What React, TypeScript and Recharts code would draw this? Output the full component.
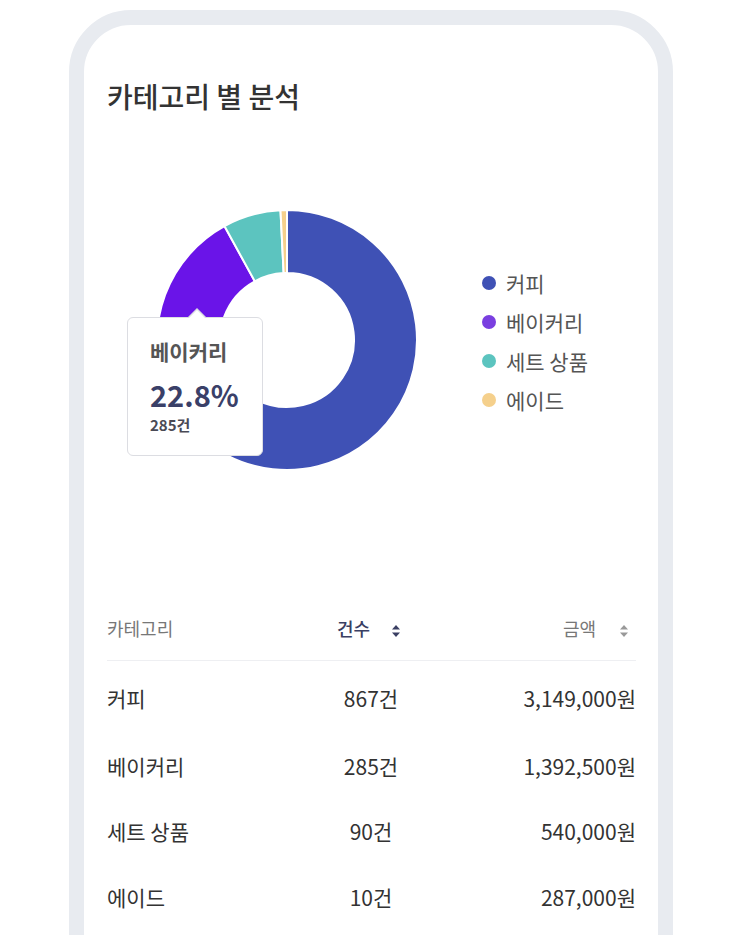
import React from 'react';
import { PieChart, Pie, Cell, Tooltip, Legend } from 'recharts';

const categories = ['커피', '베이커리', '세트 상품', '에이드'];
const counts = [867, 285, 90, 10];
const amounts = [3149000, 1392500, 540000, 287000];
const COLORS = ['#3f51b5', '#6a14e8', '#5cc4bf', '#f5d08c'];
const LEGEND_COLORS = ['#3f51b5', '#7a3fe0', '#5cc4bf', '#f5d08c'];

const chartData = categories.map((name, i) => ({ name, value: counts[i], amount: amounts[i] }));
const total = counts.reduce((a, b) => a + b, 0);

const FONT = '"Noto Sans CJK KR", "Noto Sans", sans-serif';

const SortIcon = ({ color, gap }: { color: string; gap: number }) => (
  <svg width="10" height="14" viewBox="0 0 10 14" style={{ marginLeft: gap, verticalAlign: 'middle' }}>
    <path d="M5 1 L9 5.5 L1 5.5 Z" fill={color} />
    <path d="M5 13 L9 8.5 L1 8.5 Z" fill={color} />
  </svg>
);

const TipContent = ({ payload }: any) => {
  if (!payload || !payload.length) return null;
  const item = payload[0];
  const pct = ((item.value / total) * 100).toFixed(1);
  return (
    <div style={{ position: 'relative', width: 136, height: 139, background: '#fff', border: '1px solid #dcdde2', borderRadius: 6, boxSizing: 'border-box', padding: '16px 0 0 22px', fontFamily: FONT }}>
      <div style={{ position: 'absolute', left: 59, top: -10, width: 0, height: 0, borderLeft: '10px solid transparent', borderRight: '10px solid transparent', borderBottom: '10px solid #dcdde2' }} />
      <div style={{ position: 'absolute', left: 60, top: -8, width: 0, height: 0, borderLeft: '9px solid transparent', borderRight: '9px solid transparent', borderBottom: '9px solid #fff' }} />
      <div style={{ fontSize: 21, fontWeight: 700, color: '#555', lineHeight: '34px' }}>{item.name}</div>
      <div style={{ fontSize: 29, fontWeight: 700, color: '#3a4068', lineHeight: '44px', marginTop: 4 }}>{pct}%</div>
      <div style={{ fontSize: 15, fontWeight: 700, color: '#4a4a55', lineHeight: '18px' }}>{item.value}건</div>
    </div>
  );
};

const LegendContent = () => (
  <ul style={{ listStyle: 'none', margin: 0, padding: 0, fontFamily: FONT }}>
    {categories.map((c, i) => (
      <li key={c} style={{ display: 'flex', alignItems: 'center', height: 39 }}>
        <span style={{ width: 14, height: 14, borderRadius: 7, background: LEGEND_COLORS[i], display: 'inline-block', marginRight: 10 }} />
        <span style={{ fontSize: 21, color: '#555' }}>{c}</span>
      </li>
    ))}
  </ul>
);

const rowTops = [676, 744, 809, 875];

export default function App() {
  return (
    <div style={{ position: 'fixed', left: 0, top: 0, width: 743, height: 935, overflow: 'hidden', background: '#fff', fontFamily: FONT }}>
      <div style={{ position: 'absolute', left: 69, top: 10, width: 604, height: 1100, border: '15px solid #e8ebf0', borderRadius: 62, boxSizing: 'border-box', background: '#fff' }} />
      <div style={{ position: 'absolute', left: 107, top: 76, fontSize: 28, fontWeight: 500, color: '#333', lineHeight: '40px' }}>
        카테고리 별 분석
      </div>

      <div style={{ position: 'absolute', left: 0, top: 0 }}>
        <PieChart width={743} height={540} margin={{ top: 0, right: 0, bottom: 0, left: 0 }}>
          <Pie
            data={chartData}
            dataKey="value"
            nameKey="name"
            cx={287}
            cy={340}
            innerRadius={67}
            outerRadius={130}
            startAngle={90}
            endAngle={-270}
            stroke="#fff"
            strokeWidth={2}
            isAnimationActive={false}
          >
            {chartData.map((_, i) => (
              <Cell key={`cell-${i}`} fill={COLORS[i]} />
            ))}
          </Pie>
          <Legend
            content={<LegendContent />}
            layout="vertical"
            verticalAlign="middle"
            align="center"
            wrapperStyle={{ left: 482, top: 263, width: 160 }}
          />
          <Tooltip
            defaultIndex={1}
            active
            position={{ x: 127, y: 317 }}
            content={<TipContent />}
            isAnimationActive={false}
            wrapperStyle={{ outline: 'none' }}
          />
        </PieChart>
      </div>

      {/* table header */}
      <div style={{ position: 'absolute', left: 107, top: 614, fontSize: 18, color: '#777', lineHeight: '28px' }}>카테고리</div>
      <div style={{ position: 'absolute', left: 337, top: 614, fontSize: 18, color: '#3a3f63', fontWeight: 500, lineHeight: '28px' }}>
        건수<SortIcon color="#3a3f63" gap={21} />
      </div>
      <div style={{ position: 'absolute', right: 114, top: 614, fontSize: 18, color: '#777', lineHeight: '28px' }}>
        금액<SortIcon color="#999" gap={23} />
      </div>
      <div style={{ position: 'absolute', left: 107, top: 660, width: 529, height: 1, background: '#eeeff2' }} />

      {categories.map((c, i) => (
        <React.Fragment key={c}>
          <div style={{ position: 'absolute', left: 107, top: rowTops[i], fontSize: 21, color: '#333', lineHeight: '44px' }}>{c}</div>
          <div style={{ position: 'absolute', left: 311, width: 120, textAlign: 'center', top: rowTops[i], fontSize: 21, color: '#333', lineHeight: '44px' }}>{counts[i]}건</div>
          <div style={{ position: 'absolute', right: 107, top: rowTops[i], fontSize: 21, color: '#333', lineHeight: '44px' }}>{amounts[i].toLocaleString('en-US')}원</div>
        </React.Fragment>
      ))}
    </div>
  );
}
